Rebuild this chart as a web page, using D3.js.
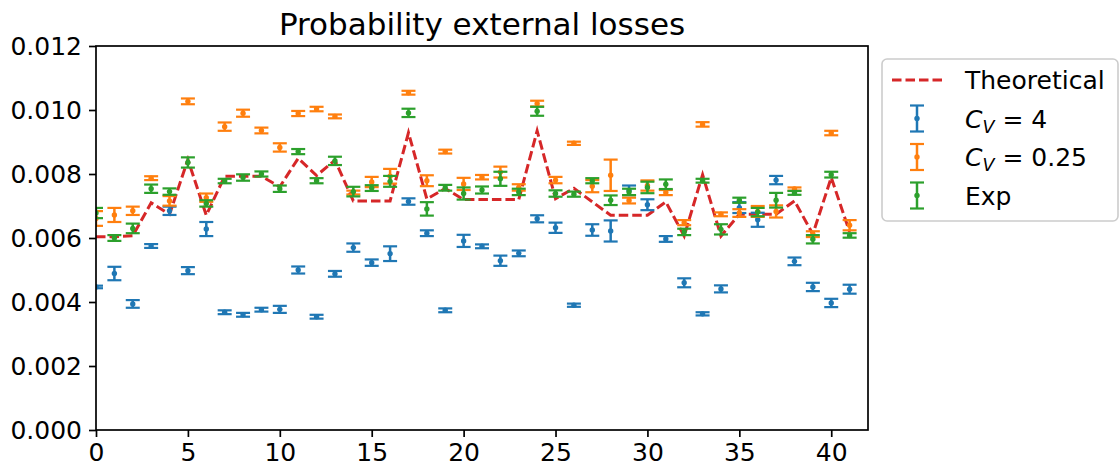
<!DOCTYPE html>
<html>
<head>
<meta charset="utf-8">
<script src="https://cdn.jsdelivr.net/npm/d3@7"></script>
<style>
  body { margin: 0; background: #fff; }
  text { font-family: "DejaVu Sans", sans-serif; fill: #000; }
</style>
</head>
<body>
<script>
// values (x = 0..41)
var theoretical = [0.00604, 0.00604, 0.00607, 0.00710, 0.00674, 0.00845, 0.00671, 0.00793, 0.00793, 0.00793,
                   0.00760, 0.00849, 0.00795, 0.00843, 0.00716, 0.00716, 0.00716, 0.00929, 0.00722, 0.00755,
                   0.00720, 0.00720, 0.00720, 0.00720, 0.00935, 0.00723, 0.00755, 0.00713, 0.00671, 0.00671,
                   0.00671, 0.00713, 0.00606, 0.00798, 0.00606, 0.00674, 0.00674, 0.00674, 0.00716, 0.00612,
                   0.00789, 0.00619];

var cv4 = [0.00447, 0.00489, 0.00394, 0.00575, 0.00685, 0.00498, 0.00628, 0.00368, 0.00360, 0.00376,
           0.00377, 0.00500, 0.00354, 0.00488, 0.00570, 0.00523, 0.00551, 0.00714, 0.00615, 0.00374,
           0.00591, 0.00574, 0.00529, 0.00552, 0.00660, 0.00632, 0.00390, 0.00625, 0.00622, 0.00749,
           0.00704, 0.00597, 0.00460, 0.00363, 0.00441, 0.00695, 0.00657, 0.00781, 0.00527, 0.00447,
           0.00397, 0.00440];
var cv4Err = [0.00004, 0.00021, 0.00012, 0.00006, 0.00013, 0.00011, 0.00022, 0.00006, 0.00006, 0.00006,
              0.00011, 0.00011, 0.00006, 0.00009, 0.00013, 0.00010, 0.00023, 0.00010, 0.00009, 0.00006,
              0.00019, 0.00006, 0.00016, 0.00009, 0.00011, 0.00016, 0.00005, 0.00018, 0.00033, 0.00015,
              0.00017, 0.00009, 0.00014, 0.00005, 0.00011, 0.00017, 0.00022, 0.00013, 0.00012, 0.00013,
              0.00013, 0.00014];

var cv025 = [0.00661, 0.00672, 0.00685, 0.00787, 0.00716, 0.01027, 0.00726, 0.00948, 0.00990, 0.00936,
             0.00883, 0.00989, 0.01003, 0.00980, 0.00742, 0.00775, 0.00793, 0.01054, 0.00779, 0.00870,
             0.00769, 0.00790, 0.00806, 0.00758, 0.01020, 0.00781, 0.00896, 0.00762, 0.00796, 0.00717,
             0.00764, 0.00742, 0.00648, 0.00955, 0.00674, 0.00678, 0.00683, 0.00683, 0.00753, 0.00612,
             0.00928, 0.00640];
var cv025Err = [0.00023, 0.00022, 0.00013, 0.00006, 0.00015, 0.00009, 0.00013, 0.00013, 0.00011, 0.00009,
                0.00013, 0.00008, 0.00007, 0.00006, 0.00006, 0.00016, 0.00023, 0.00006, 0.00017, 0.00006,
                0.00019, 0.00007, 0.00017, 0.00010, 0.00009, 0.00010, 0.00005, 0.00019, 0.00049, 0.00009,
                0.00016, 0.00008, 0.00008, 0.00007, 0.00006, 0.00012, 0.00017, 0.00019, 0.00005, 0.00009,
                0.00007, 0.00016];

var expo = [0.00678, 0.00600, 0.00630, 0.00754, 0.00745, 0.00836, 0.00708, 0.00778, 0.00789, 0.00800,
            0.00754, 0.00870, 0.00779, 0.00841, 0.00745, 0.00756, 0.00777, 0.00991, 0.00691, 0.00757,
            0.00739, 0.00750, 0.00785, 0.00744, 0.00996, 0.00739, 0.00737, 0.00779, 0.00718, 0.00744,
            0.00758, 0.00768, 0.00619, 0.00779, 0.00627, 0.00718, 0.00681, 0.00718, 0.00741, 0.00596,
            0.00798, 0.00608];
var expoErr = [0.00016, 0.00009, 0.00015, 0.00013, 0.00010, 0.00016, 0.00010, 0.00007, 0.00010, 0.00008,
               0.00010, 0.00008, 0.00008, 0.00013, 0.00015, 0.00009, 0.00017, 0.00013, 0.00021, 0.00009,
               0.00019, 0.00011, 0.00022, 0.00010, 0.00014, 0.00010, 0.00008, 0.00008, 0.00015, 0.00010,
               0.00018, 0.00015, 0.00010, 0.00006, 0.00016, 0.00008, 0.00013, 0.00023, 0.00006, 0.00013,
               0.00009, 0.00007];

var xTicks = [0, 5, 10, 15, 20, 25, 30, 35, 40];
var yTicks = [0, 0.002, 0.004, 0.006, 0.008, 0.010, 0.012];

var series = [
  {name: "cv4", values: cv4, err: cv4Err, color: "#1f77b4"},
  {name: "cv025", values: cv025, err: cv025Err, color: "#ff7f0e"},
  {name: "exp", values: expo, err: expoErr, color: "#2ca02c"}
];

var W = 1120, H = 467;
var margin = {left: 96, right: 868, top: 46, bottom: 430};

var svg = d3.select("body").append("svg")
    .attr("width", W)
    .attr("height", H);

var x = d3.scaleLinear().domain([0, 42]).range([margin.left, margin.right]);
var y = d3.scaleLinear().domain([0, 0.012]).range([margin.bottom, margin.top]);

svg.append("clipPath").attr("id", "plotclip")
  .append("rect")
    .attr("x", margin.left).attr("y", margin.top)
    .attr("width", margin.right - margin.left).attr("height", margin.bottom - margin.top);

var plot = svg.append("g").attr("clip-path", "url(#plotclip)");

// theoretical dashed line
var line = d3.line()
    .x(function(d, i) { return x(i); })
    .y(function(d) { return y(d); });

plot.append("path")
    .datum(theoretical)
    .attr("d", line)
    .style("fill", "none")
    .style("stroke", "#d62728")
    .style("stroke-width", 3)
    .style("stroke-dasharray", "9.5,4");

// error bars
var cap = 7;
series.forEach(function(s) {
  var g = plot.append("g").attr("class", s.name);
  var pts = s.values.map(function(v, i) { return {i: i, v: v, e: s.err[i]}; });

  g.selectAll(".bar").data(pts).enter().append("line")
      .attr("x1", function(d) { return x(d.i); })
      .attr("x2", function(d) { return x(d.i); })
      .attr("y1", function(d) { return y(d.v - d.e); })
      .attr("y2", function(d) { return y(d.v + d.e); })
      .style("stroke", s.color).style("stroke-width", 2.5);

  ["lo", "hi"].forEach(function(k) {
    g.selectAll(".cap" + k).data(pts).enter().append("line")
        .attr("x1", function(d) { return x(d.i) - cap; })
        .attr("x2", function(d) { return x(d.i) + cap; })
        .attr("y1", function(d) { return y(k == "lo" ? d.v - d.e : d.v + d.e); })
        .attr("y2", function(d) { return y(k == "lo" ? d.v - d.e : d.v + d.e); })
        .style("stroke", s.color).style("stroke-width", 2.2);
  });

  g.selectAll("circle").data(pts).enter().append("circle")
      .attr("cx", function(d) { return x(d.i); })
      .attr("cy", function(d) { return y(d.v); })
      .attr("r", 2.7)
      .style("fill", s.color);
});

// axes
var xAxis = svg.append("g")
    .attr("transform", "translate(0," + margin.bottom + ")")
    .call(d3.axisBottom(x).tickValues(xTicks).tickSize(7).tickPadding(6).tickFormat(d3.format("d")));
var yAxis = svg.append("g")
    .attr("transform", "translate(" + margin.left + ",0)")
    .call(d3.axisLeft(y).tickValues(yTicks).tickSize(7).tickPadding(7).tickFormat(d3.format(".3f")));

[xAxis, yAxis].forEach(function(a) {
  a.select(".domain").remove();
  a.selectAll("line").style("stroke", "#000").style("stroke-width", 1.7);
  a.selectAll("text").style("font-size", "25px").style("font-family", "DejaVu Sans");
});

// frame
svg.append("rect")
    .attr("x", margin.left).attr("y", margin.top)
    .attr("width", margin.right - margin.left).attr("height", margin.bottom - margin.top)
    .style("fill", "none").style("stroke", "#000").style("stroke-width", 1.7);

// title
svg.append("text")
    .attr("x", (margin.left + margin.right) / 2)
    .attr("y", 35)
    .attr("text-anchor", "middle")
    .style("font-size", "31px")
    .text("Probability external losses");

// legend
var leg = svg.append("g");
leg.append("rect")
    .attr("x", 882).attr("y", 59)
    .attr("width", 236).attr("height", 162)
    .attr("rx", 5)
    .style("fill", "#fff").style("fill-opacity", 0.8)
    .style("stroke", "#cccccc").style("stroke-width", 1.6);

var legY = [80, 118.5, 157, 195.5];
var hx = 917, tx = 965;

leg.append("line")
    .attr("x1", 892).attr("x2", 943)
    .attr("y1", legY[0]).attr("y2", legY[0])
    .style("stroke", "#d62728").style("stroke-width", 3)
    .style("stroke-dasharray", "9.5,4");
leg.append("text").attr("x", tx).attr("y", legY[0] + 9)
    .style("font-size", "25px").text("Theoretical");

series.forEach(function(s, k) {
  var cy = legY[k + 1];
  leg.append("line").attr("x1", hx).attr("x2", hx).attr("y1", cy - 13).attr("y2", cy + 13)
      .style("stroke", s.color).style("stroke-width", 2.5);
  [-13, 13].forEach(function(o) {
    leg.append("line").attr("x1", hx - cap).attr("x2", hx + cap).attr("y1", cy + o).attr("y2", cy + o)
        .style("stroke", s.color).style("stroke-width", 2.2);
  });
  leg.append("circle").attr("cx", hx).attr("cy", cy).attr("r", 2.7).style("fill", s.color);
});

function cvLabel(yy, val) {
  var t = leg.append("text").attr("x", tx).attr("y", yy + 9).style("font-size", "25px");
  t.append("tspan").style("font-style", "italic").text("C");
  t.append("tspan").style("font-style", "italic").style("font-size", "17.5px")
      .attr("dy", 5).text("V");
  t.append("tspan").attr("dy", -5).text("\u00a0= " + val);
}
cvLabel(legY[1], "4");
cvLabel(legY[2], "0.25");
leg.append("text").attr("x", tx).attr("y", legY[3] + 9)
    .style("font-size", "25px").text("Exp");
</script>
</body>
</html>
